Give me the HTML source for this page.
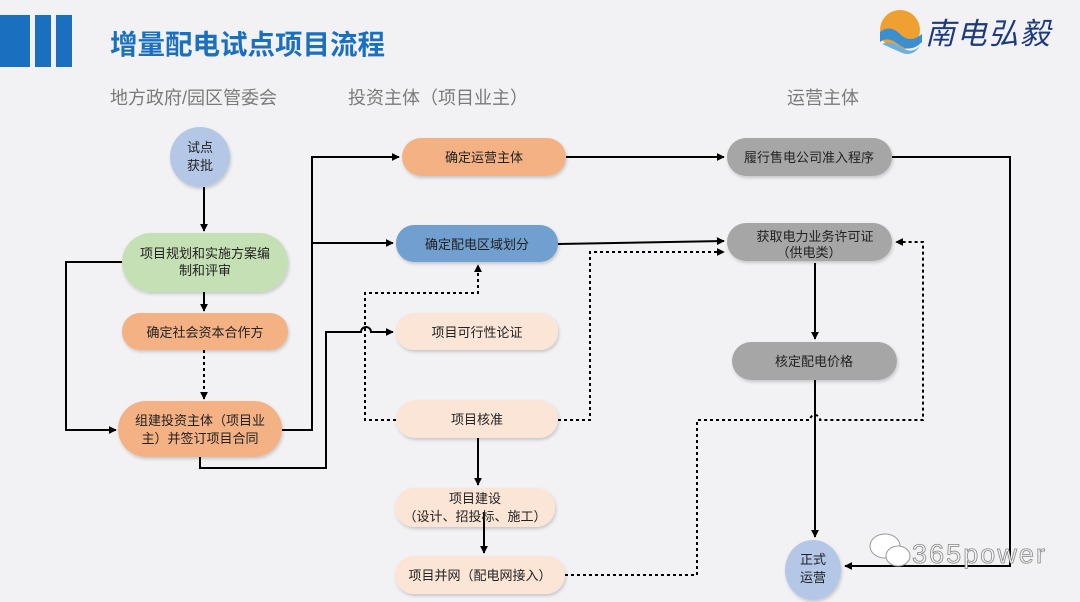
<!DOCTYPE html>
<html><head><meta charset="utf-8"><style>
html,body{margin:0;padding:0;background:#f2f2f4;}
svg{display:block;}
text{font-family:"Liberation Sans","Noto Sans CJK SC",sans-serif;}
</style></head><body>
<svg width="1080" height="602" viewBox="0 0 1080 602" xmlns="http://www.w3.org/2000/svg">
<defs>
<marker id="a" viewBox="0 0 10 10" refX="9" refY="5" markerWidth="4" markerHeight="4" orient="auto"><path d="M0,0L10,5L0,10z" fill="#000"/></marker>
<filter id="s" x="-10%" y="-20%" width="120%" height="150%"><feDropShadow dx="1" dy="2" stdDeviation="1.5" flood-color="#000" flood-opacity="0.18"/></filter>
</defs>
<rect width="1080" height="602" fill="#f2f2f4"/>
<rect x="0" y="15" width="30" height="52" fill="#1a6fbf"/>
<rect x="35" y="15" width="16" height="52" fill="#1a6fbf"/>
<rect x="56" y="15" width="16" height="52" fill="#1a6fbf"/>
<text x="110" y="54" font-size="27.5" font-weight="bold" fill="#1a6fbf">增量配电试点项目流程</text>
<circle cx="900" cy="30" r="20" fill="#f0a030"/>
<path d="M880,32 Q890,24 900,34 Q910,44 922,34 L922,42 Q910,54 898,44 Q888,36 880,42z" fill="#3a8fd0"/>
<path d="M882,44 Q892,40 902,48 Q912,54 920,46 Q912,58 900,52z" fill="#6ab0e0"/>
<text x="925" y="44" font-size="30" font-style="italic" fill="#1c3a80" font-family="Liberation Serif,'Noto Serif CJK SC',serif" textLength="125">南电弘毅</text>
<g font-size="18" fill="#7a7a7a">
<text x="110" y="104">地方政府/园区管委会</text>
<text x="348" y="104">投资主体（项目业主）</text>
<text x="787" y="104">运营主体</text>
</g>
<g stroke="#000" stroke-width="2" fill="none">
<path d="M204,187V231" marker-end="url(#a)"/>
<path d="M204,292V311" marker-end="url(#a)"/>
<path d="M204,350V399" stroke-dasharray="3,3" marker-end="url(#a)"/>
<path d="M122,262H66V430H116" marker-end="url(#a)"/>
<path d="M282,430H312V157H399" marker-end="url(#a)"/>
<path d="M312,243H393" marker-end="url(#a)"/>
<path d="M200,457V468H326V332H361A5,5 0 0 1 371,332H393" marker-end="url(#a)"/>
<path d="M396,420H365V293H478V265" stroke-dasharray="3,3" marker-end="url(#a)"/>
<path d="M558,420H590V252H724" stroke-dasharray="3,3" marker-end="url(#a)"/>
<path d="M558,244L724,241" marker-end="url(#a)"/>
<path d="M566,157H724" marker-end="url(#a)"/>
<path d="M892,157H1010V566H845" marker-end="url(#a)"/>
<path d="M815,263V339" marker-end="url(#a)"/>
<path d="M815,380V537" marker-end="url(#a)"/>
<path d="M565,575H697V420H810A5,5 0 0 1 820,420H923V242H896" stroke-dasharray="3,3" marker-end="url(#a)"/>
<path d="M478,438V485" marker-end="url(#a)"/>
</g>
<g filter="url(#s)">
<circle cx="200" cy="157" r="30" fill="#b4c7e7"/>
<rect x="122" y="233" width="166" height="59" rx="29" fill="#c5e0b4"/>
<rect x="122" y="313" width="166" height="37" rx="18" fill="#f4b183"/>
<rect x="118" y="401" width="164" height="56" rx="28" fill="#f4b183"/>
<rect x="402" y="138" width="164" height="38" rx="19" fill="#f4b183"/>
<rect x="396" y="225" width="162" height="37" rx="18" fill="#6f9fd0"/>
<rect x="396" y="313" width="162" height="37" rx="18" fill="#fbe5d6"/>
<rect x="396" y="400" width="162" height="38" rx="19" fill="#fbe5d6"/>
<rect x="395" y="488" width="160" height="39" rx="19" fill="#fbe5d6"/>
<rect x="395" y="556" width="170" height="38" rx="19" fill="#fbe5d6"/>
<rect x="727" y="138" width="165" height="38" rx="19" fill="#a6a6a6"/>
<rect x="727" y="223" width="165" height="38" rx="19" fill="#a6a6a6"/>
<rect x="732" y="342" width="165" height="38" rx="19" fill="#a6a6a6"/>
<ellipse cx="813" cy="570" rx="28" ry="30" fill="#b4c7e7"/>
</g>
<path d="M484,512V553" stroke="#000" stroke-width="2" fill="none" marker-end="url(#a)"/>
<g font-size="13" fill="#222" text-anchor="middle">
<text x="200" y="152">试点</text><text x="200" y="170">获批</text>
<text x="205" y="258">项目规划和实施方案编</text><text x="205" y="275">制和评审</text>
<text x="205" y="337">确定社会资本合作方</text>
<text x="200" y="425">组建投资主体（项目业</text><text x="200" y="443">主）并签订项目合同</text>
<text x="484" y="162">确定运营主体</text>
<text x="477" y="249">确定配电区域划分</text>
<text x="477" y="337">项目可行性论证</text>
<text x="477" y="424">项目核准</text>
<text x="475" y="503">项目建设</text><text x="475" y="521">（设计、招投标、施工）</text>
<text x="480" y="580">项目并网（配电网接入）</text>
<text x="809" y="162">履行售电公司准入程序</text>
<text x="815" y="241">获取电力业务许可证</text><text x="809" y="257">（供电类）</text>
<text x="814" y="366">核定配电价格</text>
<text x="813" y="564">正式</text><text x="813" y="582">运营</text>
</g>
<g>
<ellipse cx="885" cy="546" rx="15" ry="12" fill="#fff" stroke="#999"/>
<ellipse cx="898" cy="556" rx="12" ry="10" fill="#fff" stroke="#999"/>
<text x="912" y="563" font-size="27" fill="#f4f4f4" stroke="#888" stroke-width="0.8" textLength="133">365power</text>
</g>
</svg>
</body></html>
